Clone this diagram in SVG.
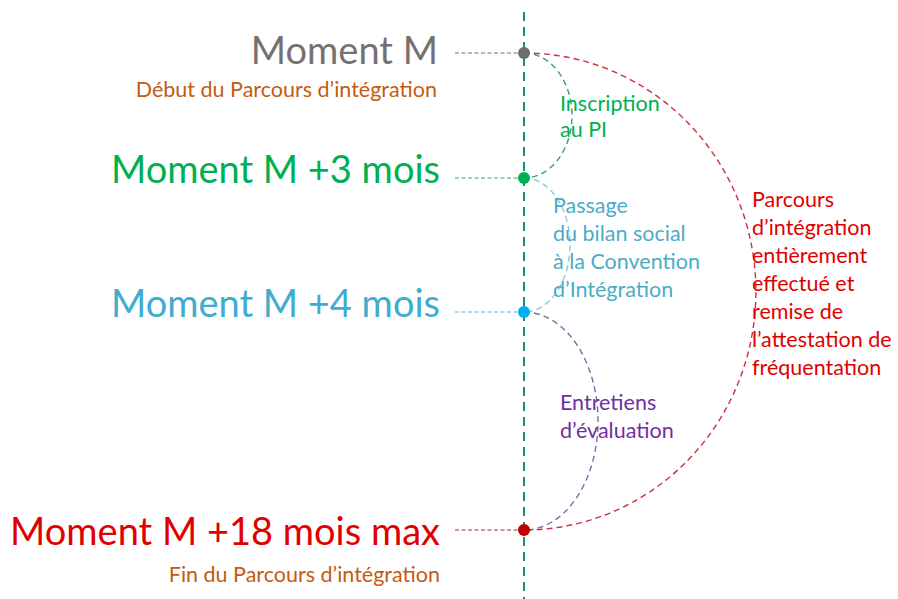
<svg xmlns="http://www.w3.org/2000/svg" width="898" height="599" viewBox="0 0 898 599">
  <style>
    text { font-family: Lato, "Open Sans", "Liberation Sans", sans-serif; }
    .big { font-size: 38px; text-anchor: end; }
    .sub { font-size: 21.5px; text-anchor: end; fill: #C55A11; }
    .lbl { font-size: 21.5px; }
    .lead { fill: none; stroke-width: 1.2; stroke-dasharray: 4 2.5; }
    .arc { fill: none; stroke-width: 1.4; stroke-dasharray: 6 4; }
  </style>
  <rect width="898" height="599" fill="#ffffff"/>

  <!-- timeline axis and connectors -->
  <g id="connectors">
    <line x1="524" y1="12" x2="524" y2="599" stroke="#1E8C6E" stroke-width="2" stroke-dasharray="9 6"/>
    <line class="lead" x1="455" y1="53" x2="524" y2="53" stroke="#6E6E6E"/>
    <line class="lead" x1="455" y1="178" x2="524" y2="178" stroke="#2FA86A"/>
    <line class="lead" x1="455" y1="312" x2="524" y2="312" stroke="#4DB8DA"/>
    <line class="lead" x1="455" y1="530" x2="524" y2="530" stroke="#A0303A"/>
    <path class="arc" d="M524 53 A48 62.5 0 0 1 524 178" stroke="#3A9E7A"/>
    <path class="arc" d="M524 178 A46 67 0 0 1 524 312" stroke="#8CC8DC"/>
    <path class="arc" d="M524 312 A74 109 0 0 1 524 530" stroke="#7F6AA8"/>
    <path class="arc" d="M524 53 A232 238.5 0 0 1 524 530" stroke="#D03040"/>
  </g>

  <g id="m0">
    <text class="big" x="438" y="64" fill="#767171">Moment M</text>
    <text class="sub" x="437" y="97">Début du Parcours d’intégration</text>
    <circle cx="524" cy="53" r="6" fill="#6E6E6E"/>
  </g>

  <g id="m3">
    <text class="big" x="440" y="183" fill="#00B050">Moment M +3 mois</text>
    <circle cx="524" cy="178" r="6" fill="#00B050"/>
  </g>

  <g id="m4">
    <text class="big" x="440" y="317" fill="#40ACD0">Moment M +4 mois</text>
    <circle cx="524" cy="312" r="6" fill="#00B0F0"/>
  </g>

  <g id="m18">
    <text class="big" x="440" y="545" fill="#E00000">Moment M +18 mois max</text>
    <text class="sub" x="440" y="582">Fin du Parcours d’intégration</text>
    <circle cx="524" cy="530" r="6" fill="#C00000"/>
  </g>

  <g id="inscription">
    <text class="lbl" x="560" y="111" fill="#00B050">Inscription</text>
    <text class="lbl" x="560" y="137" fill="#00B050">au PI</text>
  </g>

  <g id="passage">
    <text class="lbl" x="553" y="213" fill="#4BACC6">Passage</text>
    <text class="lbl" x="553" y="241" fill="#4BACC6">du bilan social</text>
    <text class="lbl" x="553" y="269" fill="#4BACC6">à la Convention</text>
    <text class="lbl" x="553" y="297" fill="#4BACC6">d’Intégration</text>
  </g>

  <g id="entretiens">
    <text class="lbl" x="560" y="410" fill="#7030A0">Entretiens</text>
    <text class="lbl" x="560" y="438" fill="#7030A0">d’évaluation</text>
  </g>

  <g id="parcours">
    <text class="lbl" x="752" y="207" fill="#E00000">Parcours</text>
    <text class="lbl" x="752" y="235" fill="#E00000">d’intégration</text>
    <text class="lbl" x="752" y="263" fill="#E00000">entièrement</text>
    <text class="lbl" x="752" y="291" fill="#E00000">effectué et</text>
    <text class="lbl" x="752" y="319" fill="#E00000">remise de</text>
    <text class="lbl" x="752" y="347" fill="#E00000">l’attestation de</text>
    <text class="lbl" x="752" y="375" fill="#E00000">fréquentation</text>
  </g>
</svg>
